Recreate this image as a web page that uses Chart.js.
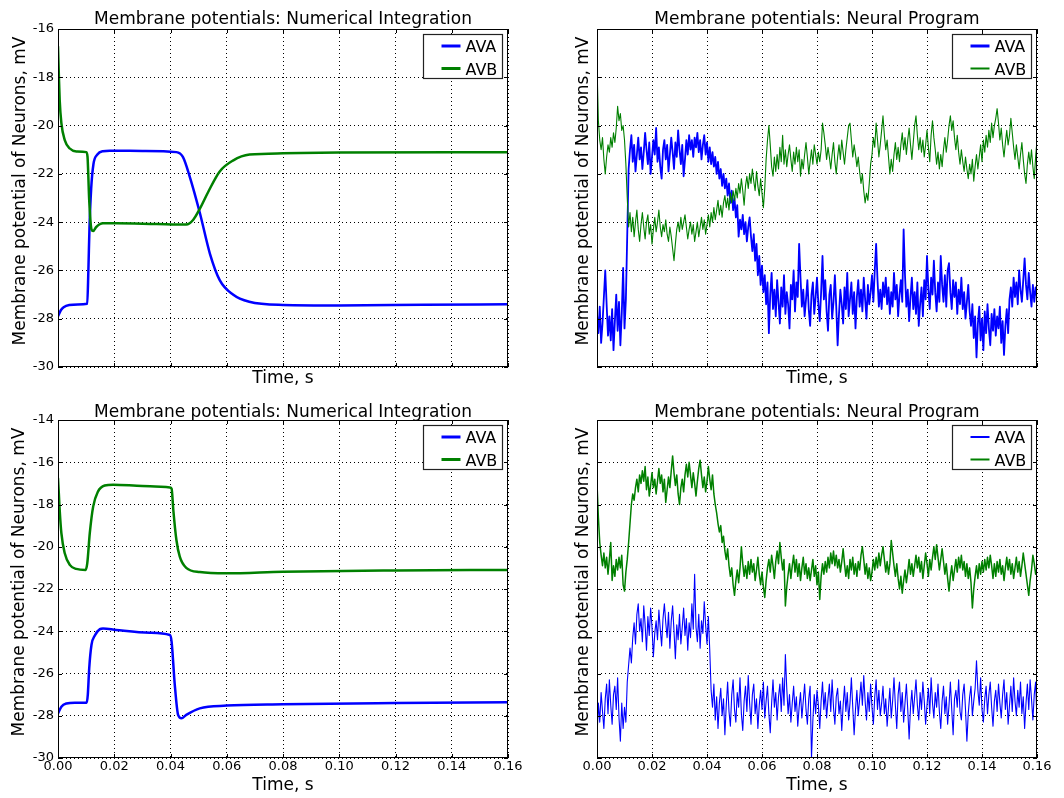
<!DOCTYPE html>
<html><head><meta charset="utf-8">
<script src="https://cdn.jsdelivr.net/npm/chart.js@4/dist/chart.umd.min.js"></script>
<style>
html,body{margin:0;padding:0;background:#fff;}
#wrap{position:relative;width:1064px;height:798px;overflow:hidden;background:#fff;}
canvas{position:absolute;}
</style></head><body>
<div id="wrap">
<canvas id="c1" width="532" height="400" style="left:0;top:0"></canvas>
<canvas id="c2" width="532" height="400" style="left:532px;top:0"></canvas>
<canvas id="c3" width="532" height="398" style="left:0;top:400px"></canvas>
<canvas id="c4" width="532" height="398" style="left:532px;top:400px"></canvas>
</div>
<script>
// ---------- text ----------
const titleNum = 'Membrane potentials: Numerical Integration';
const titleNP = 'Membrane potentials: Neural Program';
const xLabel = 'Time, s';
const yLabel = 'Membrane potential of Neurons, mV';
const seriesNames = ['AVA', 'AVB'];
const xTicks = [0, 0.02, 0.04, 0.06, 0.08, 0.10, 0.12, 0.14, 0.16];
const yTicksTop = [-30, -28, -26, -24, -22, -20, -18, -16];
const yTicksBottom = [-30, -28, -26, -24, -22, -20, -18, -16, -14];

// ---------- numerical integration, top row ----------
const tlAvaT = [0, 0.001, 0.002, 0.004, 0.007, 0.0104, 0.0108, 0.0112, 0.0118, 0.0126, 0.014, 0.016, 0.0184, 0.030, 0.0421, 0.0444, 0.0468, 0.0504, 0.054, 0.0575, 0.0622, 0.068, 0.080, 0.100, 0.130, 0.160];
const tlAvaV = [-27.9, -27.65, -27.52, -27.43, -27.41, -27.38, -26.0, -24.2, -22.6, -21.6, -21.2, -21.06, -21.04, -21.05, -21.1, -21.3, -22.1, -23.6, -25.3, -26.4, -27.0, -27.3, -27.43, -27.45, -27.42, -27.4];
const tlAvbT = [0, 0.0003, 0.0006, 0.0012, 0.0024, 0.0042, 0.0065, 0.0101, 0.0105, 0.0111, 0.0119, 0.0125, 0.0136, 0.016, 0.0207, 0.035, 0.0456, 0.0481, 0.0504, 0.0534, 0.0575, 0.0622, 0.0681, 0.080, 0.100, 0.160];
const tlAvbV = [-16.73, -17.9, -18.94, -19.9, -20.6, -20.95, -21.07, -21.1, -21.3, -23.1, -24.3, -24.37, -24.2, -24.05, -24.05, -24.08, -24.1, -23.9, -23.45, -22.75, -21.9, -21.45, -21.2, -21.15, -21.12, -21.1];

// ---------- numerical integration, bottom row ----------
const blAvaT = [0, 0.0012, 0.003, 0.006, 0.0102, 0.0106, 0.0111, 0.0119, 0.0131, 0.0149, 0.016, 0.0207, 0.0326, 0.0398, 0.0404, 0.0415, 0.0427, 0.0439, 0.0456, 0.0504, 0.0599, 0.080, 0.120, 0.160];
const blAvaV = [-27.89, -27.57, -27.42, -27.38, -27.38, -27.0, -25.75, -24.65, -24.2, -23.9, -23.87, -23.94, -24.07, -24.18, -24.5, -26.5, -27.96, -28.12, -27.96, -27.65, -27.52, -27.46, -27.4, -27.36];
const blAvbT = [0, 0.0003, 0.0006, 0.0012, 0.0024, 0.0042, 0.0065, 0.0098, 0.0104, 0.0113, 0.0125, 0.0142, 0.0166, 0.0196, 0.030, 0.0398, 0.0404, 0.041, 0.0421, 0.0433, 0.0456, 0.0504, 0.0599, 0.080, 0.120, 0.160];
const blAvbV = [-16.76, -17.5, -18.26, -19.36, -20.31, -20.86, -21.05, -21.1, -20.79, -19.36, -18.1, -17.39, -17.1, -17.06, -17.12, -17.19, -17.25, -18.26, -19.68, -20.47, -21.0, -21.2, -21.26, -21.18, -21.12, -21.1];

// ---------- neural program (sampled every 0.5 ms) ----------
const npStep = 0.0005;
const trAva = [
-27.8,-28.6,-27.5,-29.0,-28.2,-27.1,-26.0,-27.4,-28.7,-27.9,-28.9,-27.6,-29.3,-28.1,-27.0,-28.5,-27.3,-29.1,-27.8,-25.9,
-28.4,-27.2,-24.5,-21.8,-21.0,-20.4,-21.5,-20.8,-21.9,-21.2,-20.5,-21.4,-20.9,-21.8,-21.1,-20.3,-21.0,-21.6,-20.7,-22.0,
-21.3,-20.6,-21.2,-20.1,-21.5,-20.9,-21.7,-22.2,-21.0,-20.6,-21.4,-20.8,-21.9,-21.2,-20.5,-21.1,-21.8,-20.7,-21.3,-20.2,
-21.0,-21.6,-20.8,-22.1,-21.4,-20.6,-21.2,-20.4,-21.0,-20.6,-21.3,-20.5,-20.9,-20.3,-21.1,-20.6,-21.4,-20.8,-20.4,-21.2,
-20.7,-21.5,-20.9,-21.6,-21.1,-21.7,-21.3,-22.0,-21.5,-22.2,-21.8,-22.5,-22.0,-22.6,-22.2,-22.9,-22.4,-23.2,-22.7,-23.5,
-23.0,-23.8,-23.3,-24.6,-23.9,-24.3,-23.7,-24.5,-24.0,-24.8,-24.2,-23.8,-24.6,-25.2,-24.5,-25.6,-24.9,-26.2,-25.4,-26.6,
-25.8,-26.9,-26.2,-27.4,-26.5,-28.6,-27.0,-26.1,-27.6,-26.8,-27.9,-26.4,-27.3,-28.2,-26.7,-27.5,-26.2,-27.8,-26.9,-27.4,
-28.4,-26.6,-27.2,-26.0,-27.7,-26.5,-27.1,-24.9,-26.3,-27.5,-26.8,-27.9,-27.2,-26.4,-27.6,-28.3,-27.0,-26.5,-27.8,-27.1,
-26.3,-27.4,-28.1,-26.9,-25.4,-27.2,-26.4,-27.7,-28.5,-27.0,-26.6,-28.0,-27.3,-26.2,-27.5,-29.1,-27.8,-26.8,-27.4,-28.2,
-26.7,-27.6,-26.1,-27.9,-27.2,-26.5,-27.8,-26.9,-28.4,-27.1,-26.4,-27.5,-26.8,-27.7,-26.3,-27.2,-28.0,-26.6,-27.4,-26.9,
-26.2,-27.3,-26.0,-24.9,-26.4,-27.5,-26.8,-27.6,-26.5,-27.1,-26.3,-27.4,-26.7,-27.8,-26.9,-27.5,-26.1,-27.2,-26.6,-27.9,
-27.0,-26.4,-27.3,-24.3,-26.2,-27.5,-26.8,-28.1,-27.1,-26.3,-27.6,-26.9,-27.8,-26.5,-28.3,-27.4,-26.7,-27.9,-26.4,-27.2,
-25.4,-26.8,-27.6,-26.3,-27.0,-25.6,-26.9,-27.7,-26.5,-27.3,-25.4,-26.6,-27.3,-26.2,-27.5,-26.0,-25.7,-26.9,-27.6,-26.4,
-27.1,-26.5,-27.8,-26.8,-27.4,-26.3,-27.6,-26.9,-28.0,-27.3,-26.6,-27.7,-28.3,-27.4,-28.8,-27.9,-29.6,-28.2,-27.5,-28.9,
-28.0,-29.3,-27.7,-28.6,-27.4,-28.4,-29.1,-27.8,-28.5,-27.6,-28.7,-27.9,-28.4,-27.5,-29.0,-28.1,-29.5,-28.3,-27.6,-28.6,
-27.2,-26.7,-27.5,-26.3,-27.1,-26.5,-27.4,-26.0,-26.8,-27.3,-26.4,-25.5,-26.6,-27.2,-26.1,-26.9,-27.5,-26.6,-27.3,-26.7,
-27.1];
const trAvb = [
-17.5,-19.8,-20.6,-21.0,-20.5,-21.4,-22.0,-21.3,-20.8,-21.1,-20.5,-20.9,-20.3,-20.7,-20.1,-19.2,-19.8,-19.5,-20.2,-20.0,
-20.6,-21.6,-23.0,-24.2,-23.6,-24.4,-23.8,-24.6,-24.0,-23.5,-24.3,-24.8,-24.1,-23.6,-24.2,-24.7,-24.0,-23.7,-24.5,-24.1,
-24.9,-24.3,-23.8,-24.4,-24.0,-23.5,-24.2,-24.6,-24.1,-24.4,-23.9,-24.5,-24.8,-24.2,-24.6,-25.1,-25.6,-24.9,-24.3,-24.0,
-24.4,-23.8,-24.3,-24.0,-23.7,-24.2,-24.7,-24.3,-24.0,-24.5,-24.1,-24.8,-24.4,-24.0,-24.6,-24.2,-23.8,-24.3,-23.9,-24.5,
-24.1,-23.7,-24.2,-23.6,-24.0,-23.4,-23.9,-23.5,-23.1,-23.7,-23.3,-23.8,-23.2,-22.9,-23.4,-23.0,-23.5,-22.8,-23.2,-22.7,
-23.1,-22.6,-23.0,-22.4,-22.8,-22.2,-22.7,-23.3,-22.5,-22.1,-22.6,-22.0,-22.4,-21.8,-22.3,-22.7,-21.9,-22.5,-22.9,-22.2,
-22.8,-23.4,-22.6,-21.4,-20.6,-20.0,-20.8,-21.7,-22.1,-21.3,-21.9,-21.2,-21.8,-20.9,-21.5,-20.4,-21.6,-21.0,-21.7,-21.2,
-20.8,-21.4,-21.9,-21.1,-21.6,-20.9,-21.5,-21.0,-22.1,-21.4,-21.8,-21.2,-20.7,-21.3,-22.0,-21.5,-21.0,-21.6,-20.8,-21.2,
-21.6,-21.1,-21.5,-21.0,-19.9,-20.3,-20.8,-21.4,-20.9,-21.3,-21.8,-21.2,-20.7,-21.5,-22.0,-21.3,-20.8,-21.4,-20.6,-21.1,
-21.6,-21.0,-20.5,-20.0,-19.9,-20.6,-21.3,-20.8,-21.2,-21.7,-21.3,-21.9,-22.4,-22.0,-22.7,-23.2,-22.8,-23.1,-22.4,-21.6,
-21.2,-20.5,-20.9,-19.9,-20.6,-21.3,-20.8,-20.2,-19.6,-20.4,-21.0,-20.6,-21.3,-22.0,-21.4,-21.9,-21.2,-20.7,-21.4,-20.9,
-21.5,-20.8,-20.3,-21.0,-20.5,-21.2,-20.6,-20.1,-20.8,-21.4,-20.7,-20.0,-19.6,-20.4,-21.0,-20.5,-21.1,-20.6,-21.3,-20.8,
-20.2,-20.9,-21.5,-20.4,-19.8,-20.5,-21.0,-21.6,-21.1,-21.8,-21.2,-21.7,-21.0,-20.5,-21.1,-20.6,-20.0,-19.6,-20.2,-19.8,
-20.5,-21.0,-20.4,-21.1,-21.6,-21.0,-21.5,-21.9,-21.3,-21.8,-22.2,-21.6,-22.0,-21.4,-22.3,-21.7,-21.2,-21.8,-21.3,-20.8,
-21.5,-20.6,-21.1,-20.4,-20.9,-20.2,-20.7,-19.9,-20.5,-20.0,-19.7,-19.3,-19.9,-20.6,-20.1,-20.8,-21.3,-20.7,-20.2,-20.8,
-20.4,-19.7,-20.3,-20.9,-21.4,-20.8,-21.3,-21.8,-21.2,-20.7,-21.4,-22.0,-22.4,-21.6,-21.1,-21.6,-21.0,-21.7,-22.2,-21.3,
-20.6];
const brAva = [
-29.0,-27.4,-28.3,-26.9,-27.8,-28.6,-27.2,-26.5,-27.9,-26.3,-27.5,-28.4,-27.0,-26.6,-27.7,-26.2,-28.1,-29.2,-27.4,-28.6,
-27.6,-28.3,-26.4,-25.6,-24.8,-25.5,-24.3,-23.6,-24.6,-23.2,-22.7,-24.0,-23.4,-24.5,-22.8,-23.7,-24.9,-23.3,-24.2,-22.9,
-23.8,-25.2,-24.1,-23.5,-24.4,-23.0,-23.9,-24.7,-23.4,-22.7,-23.6,-24.3,-23.1,-24.8,-23.5,-22.8,-24.0,-25.3,-23.7,-24.4,
-23.2,-24.6,-23.8,-22.9,-24.2,-23.4,-24.9,-23.6,-24.3,-22.7,-23.9,-21.3,-23.8,-24.5,-23.2,-24.8,-23.5,-24.1,-22.6,-23.7,
-24.6,-23.3,-24.9,-26.8,-27.6,-26.5,-28.2,-27.1,-28.6,-27.4,-26.7,-28.0,-27.2,-28.9,-27.5,-26.4,-27.8,-28.5,-27.0,-26.3,
-27.7,-28.3,-26.9,-27.6,-26.2,-27.9,-28.7,-27.3,-26.6,-27.8,-26.1,-27.4,-28.4,-27.0,-26.5,-27.9,-27.2,-28.6,-27.5,-26.8,
-27.7,-26.4,-28.1,-27.3,-26.6,-27.9,-28.8,-27.4,-26.3,-27.6,-26.9,-28.2,-27.1,-26.5,-27.8,-26.2,-27.5,-25.1,-26.7,-27.9,
-27.0,-28.3,-27.4,-26.6,-27.8,-27.1,-28.5,-27.6,-26.9,-28.1,-27.3,-26.5,-27.7,-28.4,-27.2,-26.6,-30.0,-28.2,-27.0,-27.9,
-26.8,-27.5,-28.6,-27.3,-26.4,-27.7,-26.9,-28.1,-27.2,-26.5,-27.8,-26.3,-27.6,-28.4,-27.1,-26.7,-27.9,-27.3,-28.7,-27.5,
-26.6,-27.8,-26.9,-28.2,-27.4,-26.2,-27.6,-28.9,-27.7,-26.8,-28.0,-27.2,-26.4,-27.5,-26.1,-27.3,-28.2,-26.9,-27.8,-26.5,
-27.6,-28.4,-27.1,-26.3,-27.7,-26.8,-28.0,-27.4,-26.6,-27.9,-27.2,-28.5,-27.6,-26.7,-28.1,-27.3,-26.2,-27.5,-28.6,-27.0,
-26.4,-27.8,-26.9,-28.3,-27.4,-26.5,-27.7,-29.1,-27.6,-26.8,-27.9,-27.1,-26.3,-27.5,-28.2,-26.9,-27.7,-26.4,-27.3,-28.4,
-27.5,-26.7,-27.9,-26.2,-27.4,-28.1,-26.9,-27.6,-26.5,-27.8,-28.6,-27.3,-26.6,-27.9,-27.1,-28.4,-27.5,-26.4,-27.7,-28.9,
-27.2,-26.8,-27.6,-26.3,-27.8,-28.2,-27.0,-26.5,-27.7,-29.2,-27.9,-27.1,-26.6,-28.0,-27.3,-26.7,-25.4,-26.8,-27.5,-26.2,
-27.7,-28.3,-27.2,-26.6,-27.9,-27.0,-26.4,-27.6,-28.5,-27.3,-26.8,-27.8,-26.5,-27.4,-28.1,-27.0,-26.3,-27.7,-26.9,-28.4,
-27.5,-26.6,-27.8,-26.2,-27.3,-28.0,-26.8,-27.6,-26.4,-27.9,-27.1,-28.6,-27.4,-26.5,-27.7,-26.3,-27.2,-28.2,-27.0,-26.4,
-28.3];
const brAvb = [
-17.0,-18.6,-19.8,-20.4,-20.9,-20.3,-21.0,-20.5,-21.3,-20.6,-19.8,-21.6,-20.9,-21.4,-20.6,-21.1,-20.5,-21.0,-20.4,-21.8,
-22.1,-21.2,-20.6,-19.8,-18.9,-18.0,-17.5,-17.8,-17.2,-16.8,-17.4,-16.6,-17.0,-16.4,-16.9,-16.2,-17.3,-16.7,-17.6,-17.1,
-16.5,-17.2,-16.8,-17.5,-16.9,-16.3,-17.0,-16.6,-17.4,-16.8,-17.9,-17.3,-16.7,-17.2,-16.4,-15.7,-16.5,-17.1,-16.6,-17.5,
-18.0,-17.2,-16.8,-17.4,-16.6,-16.1,-16.7,-16.0,-16.6,-17.2,-16.5,-17.0,-17.6,-16.9,-16.3,-15.9,-16.6,-17.2,-16.7,-17.4,
-16.9,-16.2,-16.8,-17.3,-16.6,-17.5,-18.0,-18.4,-18.9,-19.3,-19.0,-19.8,-19.5,-20.2,-20.6,-20.1,-20.9,-21.4,-21.0,-21.8,
-22.3,-21.6,-21.1,-21.7,-21.0,-20.0,-20.8,-21.4,-20.9,-21.5,-20.7,-21.3,-20.6,-21.2,-20.8,-21.6,-21.1,-20.5,-21.3,-21.8,
-21.2,-21.9,-22.4,-21.6,-21.0,-20.6,-21.2,-20.4,-20.9,-21.5,-20.7,-20.2,-20.8,-19.8,-20.5,-21.1,-20.6,-22.8,-21.9,-21.3,
-20.8,-21.5,-20.9,-20.4,-21.2,-20.6,-21.4,-20.8,-21.6,-21.0,-20.5,-21.3,-20.8,-21.5,-21.0,-21.6,-21.1,-20.6,-21.4,-20.9,
-21.8,-21.2,-22.5,-21.4,-20.8,-21.3,-20.7,-21.2,-20.5,-21.0,-20.3,-20.8,-20.2,-20.9,-20.4,-21.0,-20.6,-21.2,-20.7,-20.1,
-20.8,-21.4,-20.9,-21.5,-20.6,-21.1,-20.5,-21.3,-20.8,-21.4,-20.7,-21.1,-20.4,-20.0,-20.6,-21.3,-20.8,-21.5,-21.0,-21.6,
-21.2,-20.6,-21.1,-20.5,-21.0,-20.3,-20.9,-20.4,-20.0,-20.6,-21.2,-20.7,-21.3,-20.8,-19.7,-20.3,-20.9,-21.4,-20.8,-21.5,
-22.0,-21.4,-22.2,-21.6,-21.1,-21.7,-21.2,-20.6,-21.3,-20.8,-21.4,-20.9,-20.4,-21.0,-20.5,-21.2,-20.7,-21.5,-20.9,-20.3,
-20.8,-21.4,-20.6,-21.1,-20.5,-20.0,-20.6,-19.9,-20.5,-21.1,-20.6,-20.1,-20.7,-21.3,-20.8,-21.5,-22.1,-21.4,-20.9,-21.6,
-21.1,-20.6,-21.2,-20.5,-21.0,-20.4,-21.1,-20.7,-21.4,-20.8,-21.5,-21.0,-21.7,-22.9,-22.0,-21.4,-20.9,-21.5,-20.8,-21.3,
-20.7,-21.2,-20.6,-21.1,-20.5,-21.0,-20.4,-20.9,-21.5,-20.8,-21.4,-20.7,-21.2,-20.6,-21.3,-20.9,-21.6,-21.0,-20.5,-21.1,
-20.6,-21.3,-20.8,-21.5,-21.0,-20.5,-21.2,-20.7,-21.4,-20.9,-20.3,-20.8,-21.3,-21.8,-22.3,-21.6,-21.1,-20.4,-20.8,-21.3,
-21.0];

// ---------- helpers ----------
const BLUE = '#0000ff', GREEN = '#008000';
Chart.defaults.font.family = "'DejaVu Sans', 'Verdana', sans-serif";
Chart.defaults.color = '#000';

function pairs(ts, vs) { return ts.map((t, i) => ({x: t, y: vs[i]})); }
function sampled(vs) { return vs.map((v, i) => ({x: +(i * npStep).toFixed(4), y: v})); }

const decor = {
  id: 'decor',
  afterDraw(chart, args, o) {
    const {ctx, chartArea: a} = chart;
    const xs = chart.scales.x, ys = chart.scales.y;
    ctx.save();
    // inward tick marks
    ctx.strokeStyle = '#000'; ctx.lineWidth = 1; ctx.setLineDash([]);
    ctx.beginPath();
    xs.ticks.forEach(t => {
      const p = Math.round(xs.getPixelForValue(t.value)) + 0.5;
      ctx.moveTo(p, a.bottom); ctx.lineTo(p, a.bottom - 4);
      ctx.moveTo(p, a.top); ctx.lineTo(p, a.top + 4);
    });
    ys.ticks.forEach(t => {
      const p = Math.round(ys.getPixelForValue(t.value)) + 0.5;
      ctx.moveTo(a.left, p); ctx.lineTo(a.left + 4, p);
      ctx.moveTo(a.right, p); ctx.lineTo(a.right - 4, p);
    });
    ctx.stroke();
    // frame
    ctx.strokeRect(Math.round(a.left) + 0.5, Math.round(a.top) + 0.5, Math.round(a.width) - 1, Math.round(a.height) - 1);
    // title
    ctx.fillStyle = '#000';
    ctx.font = "17px 'DejaVu Sans'";
    ctx.textAlign = 'center'; ctx.textBaseline = 'alphabetic';
    ctx.fillText(o.title, (a.left + a.right) / 2, a.top - o.titleGap);
    // x label
    ctx.fillText(xLabel, (a.left + a.right) / 2, a.bottom + o.xGap);
    // y label
    ctx.save();
    ctx.translate(a.left - o.yOff, (a.top + a.bottom) / 2 - 7);
    ctx.rotate(-Math.PI / 2);
    ctx.textBaseline = 'middle';
    ctx.fillText(yLabel, 0, 0);
    ctx.restore();
    // legend
    const bx = Math.round(a.right - 85) + 0.5, by = Math.round(a.top + 5) + 0.5, bw = 79, bh = 44;
    ctx.fillStyle = '#fff'; ctx.fillRect(bx, by, bw, bh);
    ctx.strokeStyle = '#222'; ctx.lineWidth = 1.2; ctx.strokeRect(bx, by, bw, bh);
    ctx.font = "16px 'DejaVu Sans'"; ctx.textAlign = 'left'; ctx.textBaseline = 'alphabetic';
    chart.data.datasets.forEach((ds, i) => {
      const ly = by + 11.5 + i * 22.5;
      ctx.strokeStyle = ds.borderColor; ctx.lineWidth = o.legendW[i];
      ctx.beginPath(); ctx.moveTo(bx + 18, ly); ctx.lineTo(bx + 37, ly); ctx.stroke();
      ctx.fillStyle = '#000';
      ctx.fillText(ds.label, bx + 42, ly + 6);
    });
    ctx.restore();
  }
};

function makeChart(id, datasets, c) {
  return new Chart(document.getElementById(id), {
    type: 'line',
    data: {datasets},
    options: {
      responsive: false, animation: false, events: [],
      layout: {padding: {left: 0, top: c.top, right: c.right, bottom: 0}},
      elements: {point: {radius: 0}, line: {borderJoinStyle: 'round', borderCapStyle: 'round'}},
      plugins: {
        legend: {display: false}, tooltip: {enabled: false},
        decor: {title: c.title, titleGap: c.titleGap, xGap: c.xGap, yOff: c.yOff, legendW: c.legendW}
      },
      scales: {
        x: {
          type: 'linear', min: 0, max: 0.16,
          afterFit: s => { s.height = c.xh; },
          afterBuildTicks: s => { s.ticks = xTicks.map(v => ({value: v})); },
          ticks: {display: c.xTicks, padding: 1, font: {size: 13}, color: '#000', maxRotation: 0, autoSkip: false,
                  callback: v => Number(v).toFixed(2)},
          grid: {color: '#000', lineWidth: 1, drawTicks: false},
          border: {display: false, dash: [1, 3]}
        },
        y: {
          type: 'linear', min: c.ymin, max: c.ymax,
          afterFit: s => { s.width = c.yw; },
          afterBuildTicks: s => { s.ticks = c.yTicks.map(v => ({value: v})); },
          ticks: {display: c.yTicksShow, padding: 4, font: {size: 13}, color: '#000', callback: v => String(v)},
          grid: {color: '#000', lineWidth: 1, drawTicks: false},
          border: {display: false, dash: [1, 3]}
        }
      }
    },
    plugins: [decor]
  });
}

function ds(label, data, color, width, order, smooth) {
  return {label, data, borderColor: color, backgroundColor: color, borderWidth: width, order,
          fill: false, cubicInterpolationMode: smooth ? 'monotone' : 'default', tension: 0};
}

makeChart('c1', [
  ds(seriesNames[0], pairs(tlAvaT, tlAvaV), BLUE, 2.5, 1, true),
  ds(seriesNames[1], pairs(tlAvbT, tlAvbV), GREEN, 2.5, 0, true)
], {top: 29, right: 24, yw: 58, xh: 33, ymin: -30, ymax: -16, yTicks: yTicksTop, yTicksShow: true, xTicks: false,
    title: titleNum, titleGap: 5, xGap: 16, yOff: 37.5, legendW: [3, 3]});

makeChart('c2', [
  ds(seriesNames[0], sampled(trAva), BLUE, 1.8, 1, false),
  ds(seriesNames[1], sampled(trAvb), GREEN, 1.1, 0, false)
], {top: 29, right: 27, yw: 65, xh: 33, ymin: -30, ymax: -16, yTicks: yTicksTop, yTicksShow: false, xTicks: false,
    title: titleNP, titleGap: 5, xGap: 16, yOff: 13.5, legendW: [3, 2]});

makeChart('c3', [
  ds(seriesNames[0], pairs(blAvaT, blAvaV), BLUE, 2.5, 1, true),
  ds(seriesNames[1], pairs(blAvbT, blAvbV), GREEN, 2.5, 0, true)
], {top: 20, right: 24, yw: 58, xh: 40, ymin: -30, ymax: -14, yTicks: yTicksBottom, yTicksShow: true, xTicks: true,
    title: titleNum, titleGap: 3.5, xGap: 32, yOff: 38.5, legendW: [3, 3]});

makeChart('c4', [
  ds(seriesNames[0], sampled(brAva), BLUE, 1.1, 1, false),
  ds(seriesNames[1], sampled(brAvb), GREEN, 1.5, 0, false)
], {top: 20, right: 27, yw: 65, xh: 40, ymin: -30, ymax: -14, yTicks: yTicksBottom, yTicksShow: false, xTicks: true,
    title: titleNP, titleGap: 3.5, xGap: 32, yOff: 13.5, legendW: [2, 2]});
</script>
</body></html>
